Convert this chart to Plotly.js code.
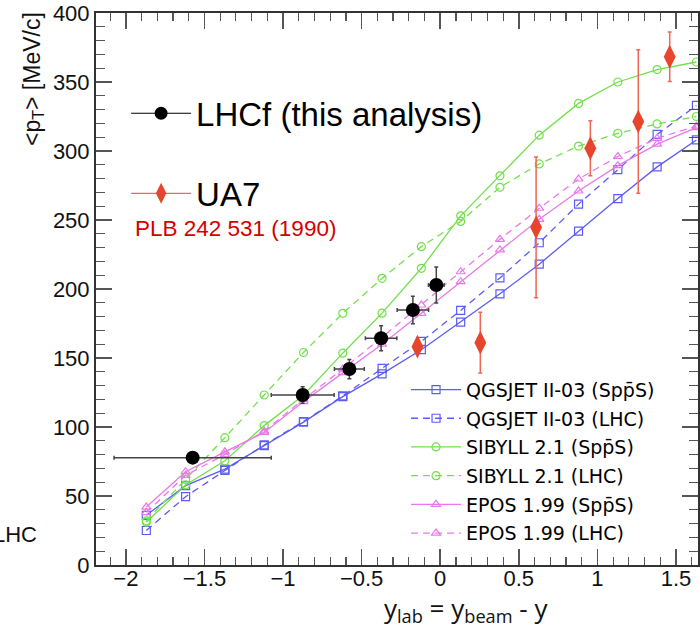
<!DOCTYPE html>
<html>
<head>
<meta charset="utf-8">
<script src="https://cdn.plot.ly/plotly-3.0.1.min.js"></script>
<style>
html,body{margin:0;padding:0;background:#fff;}
#chart{width:700px;height:630px;}
</style>
</head>
<body>
<div id="chart"></div>
<script>
// Model rapidity bins (y_lab)
const xModel = [-1.87,-1.62,-1.37,-1.12,-0.87,-0.62,-0.37,-0.12,0.13,0.38,0.63,0.88,1.13,1.38,1.63];
const qgsSps  = [36,57.5,69.5,86.5,103.5,122,138.5,156,176,196.5,218,242,265.5,288.5,308];
const qgsLhc  = [25,49.5,68.5,87,104,122.5,142.5,162,184.5,208,233.5,261.5,286.5,312,333];
const sibSps  = [31,58,75.5,101,123,153.5,182.5,215,253,282,311.5,334.5,350,359,364.5];
const sibLhc  = [32,62,92.3,123.2,154,182.4,207.7,230.7,249,273.7,290.6,303.6,312.8,319.6,325];
const eposSps = [42,67.6,82,96,118.4,139.4,160,182.4,205.3,228.3,250.5,271,289.4,305,317];
const eposLhc = [38,65,80,97,120,142,165,188.4,212.5,236,258.5,279.7,296,309.2,318];

// LHCf data
const lhcfX    = [-1.575,-0.875,-0.578,-0.376,-0.174,-0.025];
const lhcfY    = [77.8,123.2,142,164.3,184.8,202.9];
const lhcfXerr = [0.5,0.2,0.095,0.1,0.1,0.05];
const lhcfYerr = [3,6,7,9,10,13];

// UA7 data
const ua7X    = [-0.145,0.255,0.61,0.955,1.26,1.46];
const ua7Y    = [158.2,161.1,244.7,302,321.3,368.3];
const ua7Yerr = [4,22,51,20,52,18];

const xTitle = 'y<sub>lab</sub> = y<sub>beam</sub> - y';
const yTitle = '&lt;p<sub>T</sub>&gt; [MeV/c]';

const FONT = 'Liberation Sans, Arial, Helvetica, sans-serif';
const LFONT = 'DejaVu Sans, Liberation Sans, sans-serif';
const BLUE = '#5c5cf5', GREEN = '#72e04a', MAG = '#ea78ea', RED = '#e8452c';
const SPPS = 'Sp\u0070\u0304S';

function model(name, y, color, symbol, dash, grp) {
  return {
    x: xModel, y: y, name: name, type: 'scatter', mode: 'lines+markers',
    line: {color: color, width: 1.3, dash: dash},
    marker: {symbol: symbol, size: 8, color: color, line: {color: color, width: 1.2}},
    legend: 'legend3', legendgroup: grp
  };
}

const DASH = '7px,5px';
const traces = [
  model('QGSJET II-03 (' + SPPS + ')', qgsSps, BLUE, 'square-open', 'solid', 'g1'),
  model('QGSJET II-03 (LHC)', qgsLhc, BLUE, 'square-open', DASH, 'g2'),
  model('SIBYLL 2.1 (' + SPPS + ')', sibSps, GREEN, 'circle-open', 'solid', 'g3'),
  model('SIBYLL 2.1 (LHC)', sibLhc, GREEN, 'circle-open', DASH, 'g4'),
  model('EPOS 1.99 (' + SPPS + ')', eposSps, MAG, 'triangle-up-open', 'solid', 'g5'),
  model('EPOS 1.99 (LHC)', eposLhc, MAG, 'triangle-up-open', DASH, 'g6'),
  {
    x: lhcfX, y: lhcfY, type: 'scatter', mode: 'markers', showlegend: false,
    marker: {symbol: 'circle', size: 14, color: '#000'},
    error_x: {type: 'data', array: lhcfXerr, color: '#444', thickness: 1.5, width: 2},
    error_y: {type: 'data', array: lhcfYerr, color: '#444', thickness: 1.5, width: 2}
  },
  {
    x: ua7X, y: ua7Y, type: 'scatter', mode: 'markers', showlegend: false,
    marker: {symbol: 'diamond-tall', size: 17, color: RED},
    error_y: {type: 'data', array: ua7Yerr, color: '#ee6655', thickness: 1.5, width: 2}
  },
  // legend entries (no data drawn)
  {x: [null], y: [null], name: 'LHCf (this analysis)', type: 'scatter', mode: 'lines+markers',
   line: {color: '#000', width: 1}, marker: {symbol: 'circle', size: 13, color: '#000'}, legend: 'legend'},
  {x: [null], y: [null], name: 'UA7', type: 'scatter', mode: 'lines+markers',
   line: {color: RED, width: 1}, marker: {symbol: 'diamond-tall', size: 15, color: RED}, legend: 'legend2'}
];

const axisCommon = {
  showgrid: false, zeroline: false, showline: true, linecolor: '#333', linewidth: 2,
  ticks: 'inside', tickcolor: '#555', tickwidth: 1.5, mirror: 'allticks',
  tickfont: {family: FONT, size: 22, color: '#111'}
};

const layout = {
  width: 700, height: 630,
  margin: {l: 96, r: 2, t: 13, b: 65},
  paper_bgcolor: '#fff', plot_bgcolor: '#fff',
  font: {family: FONT, color: '#111'},
  xaxis: Object.assign({}, axisCommon, {
    range: [-2.19, 1.64], dtick: 0.5, tick0: 0, ticklen: 16, ticklabelstandoff: -7,
    minor: {dtick: 0.1, ticklen: 8, ticks: 'inside', tickcolor: '#555', tickwidth: 1.2}
  }),
  yaxis: Object.assign({}, axisCommon, {
    range: [0, 400], dtick: 50, tick0: 0, ticklen: 16,
    minor: {dtick: 10, ticklen: 9, ticks: 'inside', tickcolor: '#555', tickwidth: 1.2}
  }),
  legend: {
    x: 0.05, y: 0.869, xanchor: 'left', yanchor: 'top', bgcolor: 'rgba(0,0,0,0)',
    font: {family: FONT, size: 33, color: '#000'}, itemwidth: 60
  },
  legend2: {
    x: 0.05, y: 0.724, xanchor: 'left', yanchor: 'top', bgcolor: 'rgba(0,0,0,0)',
    font: {family: FONT, size: 33, color: '#000'}, itemwidth: 60
  },
  legend3: {
    x: 0.515, y: 0.352, xanchor: 'left', yanchor: 'top', bgcolor: 'rgba(0,0,0,0)',
    font: {family: LFONT, size: 19, color: '#000'}, itemwidth: 50,
    traceorder: 'grouped', tracegroupgap: 1
  },
  annotations: [
    {text: yTitle, xref: 'paper', yref: 'paper', x: -0.105, y: 1.005, xanchor: 'center', yanchor: 'top',
     textangle: -90, showarrow: false, font: {family: FONT, size: 23, color: '#111'}},
    {text: xTitle, xref: 'paper', yref: 'paper', x: 0.614, y: -0.0797, xanchor: 'center', yanchor: 'middle',
     showarrow: false, font: {family: 'Open Sans, ' + FONT, size: 26, color: '#111'}},
    {text: 'PLB 242 531 (1990)', xref: 'paper', yref: 'paper', x: 0.231, y: 0.6105, xanchor: 'center', yanchor: 'middle',
     showarrow: false, font: {family: FONT, size: 22.5, color: '#d40000'}},
    {text: 'LHC', xref: 'paper', yref: 'paper', x: -0.094, y: 0.055, xanchor: 'right', yanchor: 'middle',
     showarrow: false, font: {family: FONT, size: 22, color: '#111'}}
  ]
};

Plotly.newPlot('chart', traces, layout, {displayModeBar: false, staticPlot: true});
</script>
</body>
</html>
